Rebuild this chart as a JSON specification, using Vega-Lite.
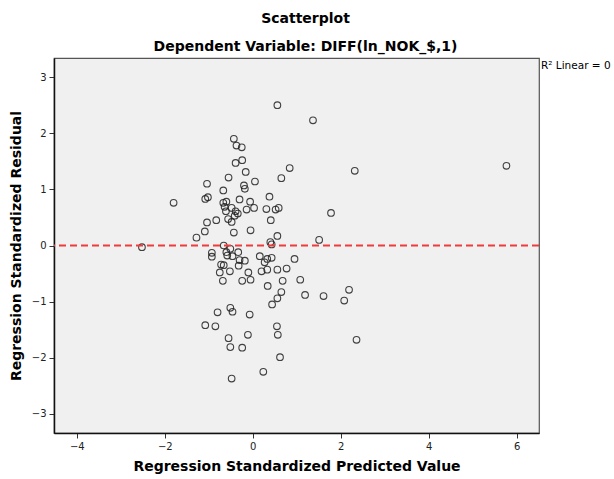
{
  "$schema": "https://vega.github.io/schema/vega-lite/v6.json",
  "autosize": "none",
  "width": 485,
  "height": 375,
  "padding": {"left": 54, "top": 58, "right": 75, "bottom": 46},
  "background": "white",
  "config": {
    "font": "DejaVu Sans",
    "view": {"fill": "#F0F0F0", "stroke": "#555555", "strokeWidth": 1.2},
    "axis": {
      "grid": false,
      "domainColor": "#111111",
      "domainWidth": 1.5,
      "tickColor": "#333333",
      "tickSize": 5,
      "tickWidth": 1,
      "labelFont": "DejaVu Sans",
      "labelFontSize": 10,
      "labelColor": "#222222",
      "titleFont": "DejaVu Sans",
      "titleFontSize": 14,
      "titleFontWeight": "bold",
      "titleColor": "#000000"
    }
  },
  "title": {
    "text": "Scatterplot",
    "subtitle": "Dependent Variable: DIFF(ln_NOK_$,1)",
    "font": "DejaVu Sans",
    "fontSize": 14,
    "fontWeight": "bold",
    "color": "#000000",
    "subtitleFont": "DejaVu Sans",
    "subtitleFontSize": 14,
    "subtitleFontWeight": "bold",
    "subtitleColor": "#000000",
    "subtitlePadding": 14,
    "offset": 4,
    "anchor": "middle",
    "dx": 9
  },
  "datasets": {
    "pts": [
      {"pred": 0.56, "resid": 2.50}, {"pred": 1.37, "resid": 2.23}, {"pred": -0.43, "resid": 1.90},
      {"pred": -0.37, "resid": 1.78}, {"pred": -0.25, "resid": 1.75}, {"pred": -0.39, "resid": 1.47},
      {"pred": -0.24, "resid": 1.52}, {"pred": -0.16, "resid": 1.31}, {"pred": -0.55, "resid": 1.21},
      {"pred": -1.04, "resid": 1.10}, {"pred": -0.20, "resid": 1.07}, {"pred": -0.18, "resid": 1.01},
      {"pred": 0.05, "resid": 1.14}, {"pred": -0.67, "resid": 0.98}, {"pred": 0.84, "resid": 1.38},
      {"pred": 0.65, "resid": 1.20}, {"pred": 2.32, "resid": 1.33}, {"pred": 5.77, "resid": 1.42},
      {"pred": -1.80, "resid": 0.76}, {"pred": -1.08, "resid": 0.83}, {"pred": -1.02, "resid": 0.86},
      {"pred": -0.30, "resid": 0.82}, {"pred": -0.67, "resid": 0.76}, {"pred": -0.60, "resid": 0.78},
      {"pred": -0.06, "resid": 0.78}, {"pred": 0.38, "resid": 0.87}, {"pred": -0.64, "resid": 0.69},
      {"pred": -0.61, "resid": 0.61}, {"pred": -0.48, "resid": 0.67}, {"pred": -0.39, "resid": 0.61},
      {"pred": -0.34, "resid": 0.57}, {"pred": -0.41, "resid": 0.53}, {"pred": -0.14, "resid": 0.64},
      {"pred": 0.03, "resid": 0.67}, {"pred": 0.31, "resid": 0.65}, {"pred": 0.52, "resid": 0.64},
      {"pred": 0.59, "resid": 0.67}, {"pred": 1.78, "resid": 0.58}, {"pred": -0.83, "resid": 0.45},
      {"pred": -1.04, "resid": 0.41}, {"pred": -0.56, "resid": 0.47}, {"pred": -0.48, "resid": 0.42},
      {"pred": 0.41, "resid": 0.45}, {"pred": -1.09, "resid": 0.25}, {"pred": -0.05, "resid": 0.27},
      {"pred": -0.43, "resid": 0.23}, {"pred": -1.28, "resid": 0.14}, {"pred": 0.56, "resid": 0.17},
      {"pred": 1.51, "resid": 0.10}, {"pred": 0.40, "resid": 0.06}, {"pred": 0.43, "resid": 0.02},
      {"pred": -0.66, "resid": 0.00}, {"pred": -2.52, "resid": -0.03}, {"pred": -0.93, "resid": -0.13},
      {"pred": -0.93, "resid": -0.20}, {"pred": -0.60, "resid": -0.12}, {"pred": -0.58, "resid": -0.18},
      {"pred": -0.46, "resid": -0.19}, {"pred": -0.51, "resid": -0.06}, {"pred": -0.33, "resid": -0.12},
      {"pred": -0.30, "resid": -0.26}, {"pred": -0.18, "resid": -0.27}, {"pred": -0.32, "resid": -0.36},
      {"pred": -0.72, "resid": -0.34}, {"pred": -0.66, "resid": -0.35}, {"pred": -0.75, "resid": -0.48},
      {"pred": -0.52, "resid": -0.46}, {"pred": -0.68, "resid": -0.63}, {"pred": -0.10, "resid": -0.48},
      {"pred": -0.24, "resid": -0.63}, {"pred": -0.05, "resid": -0.61}, {"pred": 0.16, "resid": -0.19},
      {"pred": 0.27, "resid": -0.30}, {"pred": 0.33, "resid": -0.24}, {"pred": 0.43, "resid": -0.22},
      {"pred": 0.20, "resid": -0.46}, {"pred": 0.33, "resid": -0.43}, {"pred": 0.56, "resid": -0.43},
      {"pred": 0.77, "resid": -0.41}, {"pred": 0.95, "resid": -0.24}, {"pred": 0.68, "resid": -0.63},
      {"pred": 1.08, "resid": -0.61}, {"pred": 0.34, "resid": -0.72}, {"pred": 0.65, "resid": -0.83},
      {"pred": 0.56, "resid": -0.94}, {"pred": 0.44, "resid": -1.05}, {"pred": 1.19, "resid": -0.88},
      {"pred": 1.61, "resid": -0.90}, {"pred": 2.08, "resid": -0.98}, {"pred": 2.19, "resid": -0.79},
      {"pred": -0.80, "resid": -1.19}, {"pred": -0.51, "resid": -1.11}, {"pred": -0.46, "resid": -1.18},
      {"pred": -0.07, "resid": -1.23}, {"pred": -1.08, "resid": -1.42}, {"pred": -0.85, "resid": -1.44},
      {"pred": 0.55, "resid": -1.44}, {"pred": 0.57, "resid": -1.59}, {"pred": -0.55, "resid": -1.65},
      {"pred": -0.11, "resid": -1.59}, {"pred": -0.51, "resid": -1.81}, {"pred": -0.24, "resid": -1.82},
      {"pred": 0.62, "resid": -1.99}, {"pred": 0.24, "resid": -2.25}, {"pred": -0.48, "resid": -2.37},
      {"pred": 2.36, "resid": -1.68}
    ],
    "note": [
      {"label": "R² Linear = 0", "px": 6.51, "py": 3.34, "ref": 0}
    ]
  },
  "layer": [
    {
      "data": {"name": "pts"},
      "mark": {"type": "point", "shape": "circle", "filled": false, "size": 44, "stroke": "#222222", "strokeWidth": 1.1, "opacity": 0.85},
      "encoding": {
        "x": {
          "field": "pred", "type": "quantitative",
          "scale": {"domain": [-4.52, 6.51], "nice": false, "zero": false},
          "axis": {"values": [-4, -2, 0, 2, 4, 6], "format": "d", "title": "Regression Standardized Predicted Value", "labelPadding": 3, "titlePadding": 8}
        },
        "y": {
          "field": "resid", "type": "quantitative",
          "scale": {"domain": [-3.34, 3.34], "nice": false, "zero": false},
          "axis": {"values": [-3, -2, -1, 0, 1, 2, 3], "format": "d", "title": "Regression Standardized Residual", "labelPadding": 3, "titlePadding": 8}
        }
      }
    },
    {
      "data": {"name": "note"},
      "mark": {"type": "rule", "color": "#EE3B3B", "strokeWidth": 2, "strokeDash": [7, 4]},
      "encoding": {"y": {"field": "ref", "type": "quantitative"}}
    },
    {
      "data": {"name": "note"},
      "mark": {"type": "text", "align": "left", "baseline": "top", "dx": 2, "dy": 3, "fontSize": 10.5, "font": "DejaVu Sans", "color": "#000000"},
      "encoding": {
        "x": {"field": "px", "type": "quantitative"},
        "y": {"field": "py", "type": "quantitative"},
        "text": {"field": "label", "type": "nominal"}
      }
    }
  ]
}
